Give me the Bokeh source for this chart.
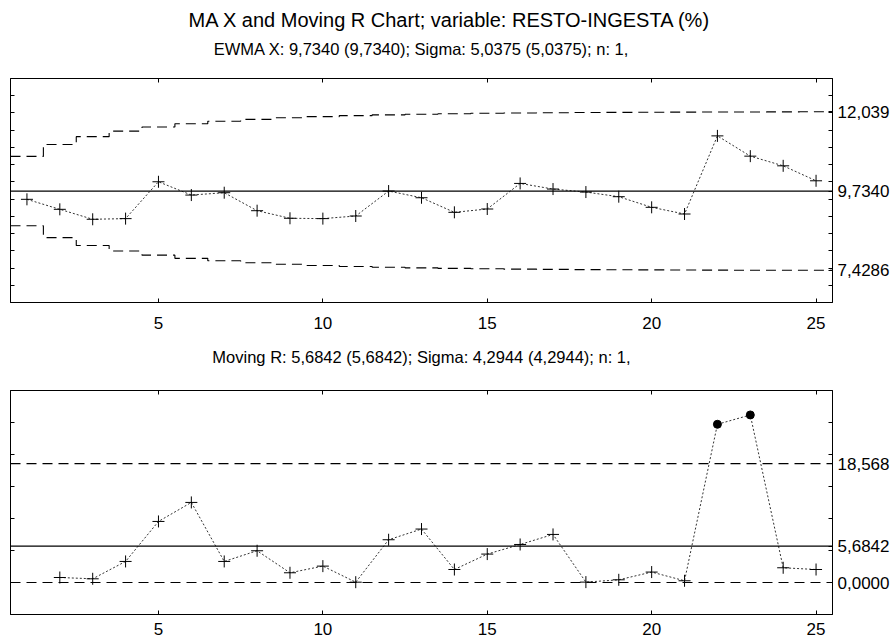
import numpy as np
from bokeh.plotting import figure
from bokeh.models import (LinearAxis, FixedTicker, CustomJSTickFormatter, Span,
                          Title, Range1d)
from bokeh.layouts import column
from bokeh.embed import file_html
from bokeh.resources import INLINE

# ---------------- data ----------------
title_text = "MA X and Moving R Chart; variable:  RESTO-INGESTA (%)"
ewma_subtitle = "EWMA X: 9,7340 (9,7340); Sigma: 5,0375 (5,0375); n: 1,"
mr_subtitle = "Moving R: 5,6842 (5,6842); Sigma: 4,2944 (4,2944); n: 1,"

samples = list(range(1, 26))
ewma_values = [9.494, 9.204, 8.915, 8.934, 10.003, 9.618, 9.686, 9.164, 8.944, 8.934,
               9.010, 9.734, 9.540, 9.117, 9.213, 9.955, 9.792, 9.705, 9.570, 9.262,
               9.068, 11.335, 10.747, 10.466, 10.032]
ewma_ucl = [10.739, 11.086, 11.312, 11.474, 11.594, 11.687, 11.758, 11.815, 11.859, 11.894,
            11.923, 11.945, 11.963, 11.978, 11.990, 11.999, 12.007, 12.013, 12.018, 12.022,
            12.025, 12.028, 12.030, 12.032, 12.033]
ewma_lcl = [8.729, 8.382, 8.156, 7.994, 7.874, 7.781, 7.710, 7.653, 7.609, 7.574,
            7.545, 7.523, 7.505, 7.490, 7.478, 7.469, 7.461, 7.455, 7.450, 7.446,
            7.443, 7.440, 7.438, 7.436, 7.435]
ewma_center = 9.7340
ewma_minor_ticks = [7.0, 7.5, 8.0, 8.5, 9.0, 9.5, 10.0, 10.5, 11.0, 11.5, 12.0, 12.5]
ewma_labeled_ticks = [7.4286, 9.7340, 12.039]
ewma_yrange = (6.5, 13.0)

mr_samples = list(range(2, 26))
mr_values = [0.78, 0.58, 3.29, 9.54, 12.51, 3.29, 4.96, 1.52, 2.56, 0.05,
             6.68, 8.35, 2.03, 4.44, 5.94, 7.51, 0.06, 0.42, 1.63, 0.27,
             24.72, 26.18, 2.30, 2.03]
mr_center = 5.6842
mr_ucl = 18.568
mr_lcl = 0.0
mr_minor_ticks = [0, 5, 10, 15, 20, 25]
mr_labeled_ticks = [0.0, 5.6842, 18.568]
mr_yrange = (-5.0, 30.0)

x_ticks = [5, 10, 15, 20, 25]
x_range = (0.5, 25.5)

FONT = "Liberation Sans"
W = 895
FRAME_H = 224
TICK_FS = "17px"
SUB_FS = "16.5px"


def add_axes(p, minor, labeled, bottom_standoff, subtitle, sub_standoff):
    common = dict(axis_line_color="black", axis_line_width=1,
                  major_tick_in=4, major_tick_out=0, minor_tick_in=4, minor_tick_out=0,
                  major_tick_line_color="black", minor_tick_line_color="black")
    hidden = dict(major_label_text_font_size="0px", major_label_standoff=0,
                  formatter=CustomJSTickFormatter(code="return '';"))
    below = LinearAxis(ticker=FixedTicker(ticks=x_ticks), major_label_standoff=bottom_standoff,
                       major_label_text_font=FONT, major_label_text_font_size=TICK_FS,
                       major_label_text_color="black", **common)
    above = LinearAxis(ticker=FixedTicker(ticks=x_ticks), axis_label=subtitle,
                       axis_label_standoff=sub_standoff, axis_label_text_font=FONT,
                       axis_label_text_font_size=SUB_FS, axis_label_text_font_style="normal",
                       axis_label_text_color="black", **hidden, **common)
    left = LinearAxis(ticker=FixedTicker(ticks=minor), **hidden, **common)
    right = LinearAxis(ticker=FixedTicker(ticks=labeled, minor_ticks=minor),
                       formatter=CustomJSTickFormatter(
                           code="return tick.toPrecision(5).replace('.', ',');"),
                       major_label_standoff=5, major_label_text_font=FONT,
                       major_label_text_font_size=TICK_FS, major_label_text_color="black",
                       **common)
    p.add_layout(below, "below")
    p.add_layout(above, "above")
    p.add_layout(left, "left")
    p.add_layout(right, "right")


def step_path(xs, ys):
    xs = np.asarray(xs, dtype=float)
    ys = np.asarray(ys, dtype=float)
    px = np.column_stack([xs - 0.5, xs + 0.5]).ravel()
    py = np.repeat(ys, 2)
    return px, py


def make_fig(top, bottom, yr):
    p = figure(width=W, height=top + FRAME_H + bottom, x_axis_type=None, y_axis_type=None,
               x_range=Range1d(*x_range), y_range=Range1d(*yr),
               min_border_left=10, min_border_right=63, min_border_top=top,
               min_border_bottom=bottom, output_backend="svg", toolbar_location=None,
               background_fill_color="white", border_fill_color="white")
    p.outline_line_color = "black"
    p.outline_line_width = 1
    return p


DASH = "10 6"
DOT = "2 2"

# ---------------- EWMA chart ----------------
p1 = make_fig(78, 33, ewma_yrange)
add_axes(p1, ewma_minor_ticks, ewma_labeled_ticks, 14, ewma_subtitle, 21)
p1.add_layout(Title(text=title_text, align="left", offset=178, standoff=12,
                    text_font=FONT, text_font_size="20px", text_font_style="normal",
                    text_color="black"), "above")

ux, uy = step_path(samples, ewma_ucl)
lx, ly = step_path(samples, ewma_lcl)
p1.line(ux, uy, line_color="black", line_width=1.1, line_dash=DASH)
p1.line(lx, ly, line_color="black", line_width=1.1, line_dash=DASH)
p1.add_layout(Span(location=ewma_center, dimension="width", line_color="black",
                   line_width=1.2))
p1.line(samples, ewma_values, line_color="#333333", line_width=1, line_dash=DOT)
p1.scatter(samples, ewma_values, marker="cross", size=12, line_color="black",
           line_width=1)

# ---------------- Moving R chart ----------------
p2 = make_fig(55, 27, mr_yrange)
add_axes(p2, mr_minor_ticks, mr_labeled_ticks, 8, mr_subtitle, 25)

p2.add_layout(Span(location=mr_ucl, dimension="width", line_color="black", line_width=1.1,
                   line_dash=DASH))
p2.add_layout(Span(location=mr_lcl, dimension="width", line_color="black", line_width=1.1,
                   line_dash=DASH))
p2.add_layout(Span(location=mr_center, dimension="width", line_color="black",
                   line_width=1.2))
p2.line(mr_samples, mr_values, line_color="#333333", line_width=1, line_dash=DOT)

ok_x = [x for x, v in zip(mr_samples, mr_values) if v <= mr_ucl]
ok_y = [v for v in mr_values if v <= mr_ucl]
out_x = [x for x, v in zip(mr_samples, mr_values) if v > mr_ucl]
out_y = [v for v in mr_values if v > mr_ucl]
p2.scatter(ok_x, ok_y, marker="cross", size=12, line_color="black", line_width=1)
p2.scatter(out_x, out_y, marker="circle", size=8, fill_color="black", line_color="black")

layout = column(p1, p2, spacing=0)
open("out.html", "w").write(file_html(layout, INLINE))
